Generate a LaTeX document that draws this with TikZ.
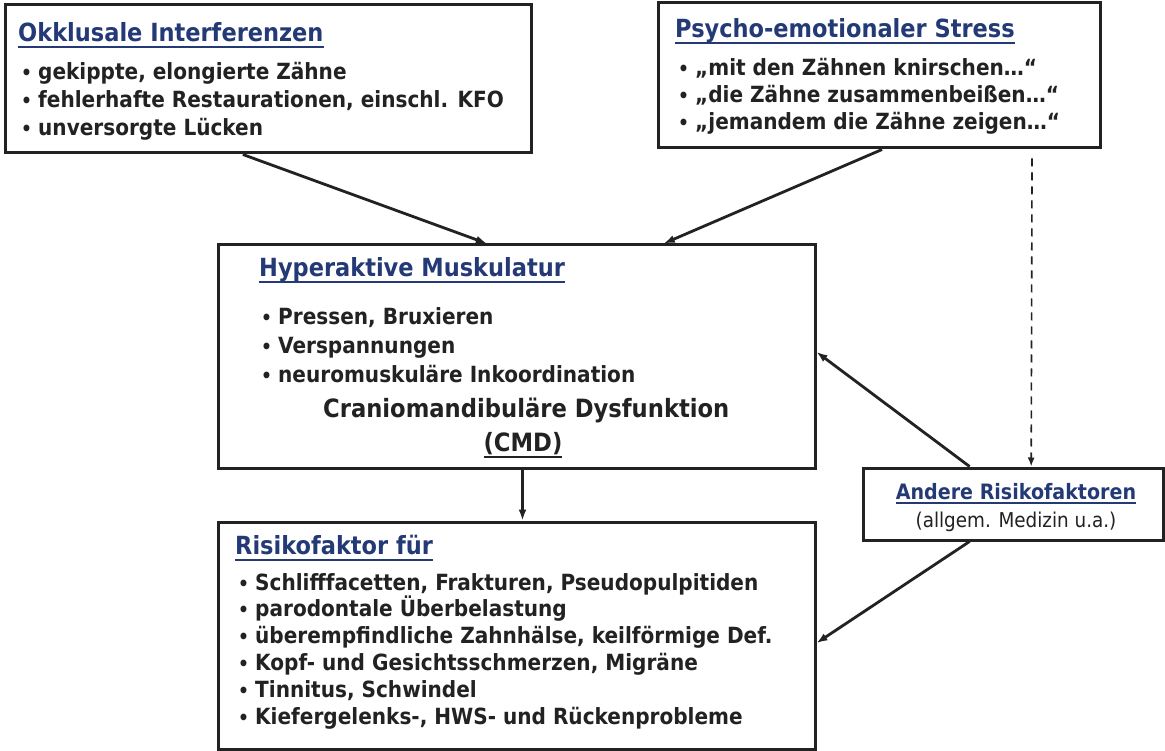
\documentclass[tikz,border=0pt]{standalone}
\usepackage{fontspec}
\setmainfont{DejaVu Sans Condensed}
\usetikzlibrary{arrows.meta,calc}
\definecolor{hblue}{RGB}{36,58,118}
\definecolor{ink}{RGB}{34,34,34}
\newlength\hulw
\newcommand\hul[2][6pt]{\settowidth\hulw{#2}\rlap{\rule[-#1]{\hulw}{1.7pt}}#2}
\newcommand\bul{\makebox[17pt][l]{\raisebox{0pt}{\fontsize{19}{19}\selectfont •}}}
\begin{document}
\begin{tikzpicture}[x=1pt,y=-1pt,
  box/.style={draw=ink, line width=3pt, fill=white, inner sep=0pt},
  head/.style={font=\fontsize{25}{25}\selectfont\bfseries, text=hblue, inner sep=0pt, anchor=base west},
  body/.style={font=\fontsize{22.3}{22.3}\selectfont\bfseries, text=ink, inner sep=0pt, anchor=base west},
  arr/.style={draw=ink, line width=2.8pt, -{Latex[length=11pt,width=8pt]}},
  darr/.style={draw=ink, line width=1.6pt, dash pattern=on 8pt off 6pt, -{Latex[length=9pt,width=7pt]}}]
\useasboundingbox (0,0) rectangle (1165,751);
\fill[white] (0,0) rectangle (1165,751);

% boxes
\node[box, minimum width=526pt, minimum height=148pt] (A) at (268,79) {};
\node[box, minimum width=442pt, minimum height=145pt] (B) at (879,75.5) {};
\node[box, minimum width=597pt, minimum height=223pt] (C) at (516.5,356.5) {};
\node[box, minimum width=300pt, minimum height=72pt] (D) at (1013,504) {};
\node[box, minimum width=597pt, minimum height=227pt] (E) at (516.5,635.5) {};

% box A
\node[head] (Ah) at (18,42) {\hul{Okklusale Interferenzen}};
\foreach \t [count=\i] in {{gekippte, elongierte Zähne},{fehlerhafte Restaurationen, einschl. KFO},{unversorgte Lücken}}
  \node[body] (A\i) at (21,{80+28*(\i-1)}) {\bul\t};

% box B
\node[head] (Bh) at (675,38) {\hul{Psycho-emotionaler Stress}};
\foreach \t [count=\i] in {{„mit den Zähnen knirschen…“},{„die Zähne zusammenbeißen…“},{„jemandem die Zähne zeigen…“}}
  \node[body] (B\i) at (678,{76+27*(\i-1)}) {\bul\t};

% box C
\node[head] (Ch) at (259,277) {\hul{Hyperaktive Muskulatur}};
\foreach \t [count=\i] in {{Pressen, Bruxieren},{Verspannungen},{neuromuskuläre Inkoordination}}
  \node[body] (C\i) at (261,{325+28.5*(\i-1)}) {\bul\t};
\node[body, font=\fontsize{25.2}{25.2}\selectfont\bfseries] (Cc) at (323,417) {Craniomandibuläre Dysfunktion};
\node[body, anchor=base, font=\fontsize{25.2}{25.2}\selectfont\bfseries] (Cm) at (523,451) {\hul[7pt]{(CMD)}};

% box D
\node[head, anchor=base, font=\fontsize{21.2}{21.2}\selectfont\bfseries] (Dh) at (1016,499) {\hul[5pt]{Andere Risikofaktoren}};
\node[body, anchor=base, font=\fontsize{20.4}{20.4}\selectfont] (Ds) at (1016,527) {(allgem. Medizin u.a.)};

% box E
\node[head] (Eh) at (235,554) {\hul[7pt]{Risikofaktor für}};
\foreach \t [count=\i] in {{Schlifffacetten, Frakturen, Pseudopulpitiden},{parodontale Überbelastung},{überempfindliche Zahnhälse, keilförmige Def.},{Kopf- und Gesichtsschmerzen, Migräne},{Tinnitus, Schwindel},{Kiefergelenks-, HWS- und Rückenprobleme}}
  \node[body] (E\i) at (238,{590+26.8*(\i-1)}) {\bul\t};

% connectors
\draw[arr] ($(A.south west)!0.4525!(A.south east)$) -- ($(C.north west)!0.4506!(C.north east)$);
\draw[arr] ($(B.south west)!0.5068!(B.south east)$) -- ($(C.north west)!0.7454!(C.north east)$);
\draw[darr] ($(B.south west)!0.8439!(B.south east)+(0,9)$) -- ($(D.north west)!0.56!(D.north east)$);
\draw[arr] ($(D.north west)!0.3567!(D.north east)$) -- ($(C.north east)!0.4798!(C.south east)$);
\draw[arr] ($(D.south west)!0.3567!(D.south east)$) -- ($(E.north east)!0.533!(E.south east)$);
\draw[arr] ($(C.south west)!0.5!(C.south east)+(6,0)$) -- ($(E.north west)!0.5!(E.north east)+(6,0)$);
\end{tikzpicture}
\end{document}
